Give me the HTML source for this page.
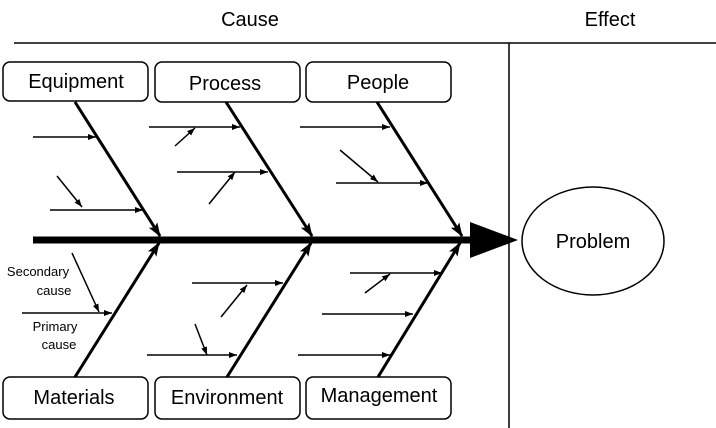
<!DOCTYPE html>
<html><head><style>
body{margin:0;background:#fff;}
svg{display:block;font-family:"Liberation Sans",sans-serif;}
</style></head><body>
<svg width="716" height="428" viewBox="0 0 716 428" xmlns="http://www.w3.org/2000/svg">
<defs>
<marker id="a" markerWidth="8" markerHeight="6" refX="8" refY="3" orient="auto" markerUnits="userSpaceOnUse"><path d="M0,0 L8,3 L0,6 z" fill="#000"/></marker>
<marker id="b" markerWidth="14" markerHeight="10" refX="13" refY="5" orient="auto" markerUnits="userSpaceOnUse"><path d="M0,0 L14,5 L0,10 L3,5 z" fill="#000"/></marker>
</defs>
<text x="250" y="26" font-size="20" text-anchor="middle">Cause</text>
<text x="610" y="26" font-size="20" text-anchor="middle">Effect</text>
<line x1="14" y1="43" x2="716" y2="43" stroke="#000" stroke-width="1.5"/>
<line x1="509" y1="43" x2="509" y2="428" stroke="#000" stroke-width="1.5"/>
<ellipse cx="593" cy="241" rx="71" ry="54" fill="#fff" stroke="#000" stroke-width="1.5"/>
<text x="593" y="248" font-size="20" text-anchor="middle">Problem</text>
<line x1="33" y1="240" x2="475" y2="240" stroke="#000" stroke-width="7"/>
<path d="M470,222 L518,240 L470,258 z" fill="#000"/>
<g fill="#fff" stroke="#000" stroke-width="1.5">
<rect x="3" y="62" width="145" height="39" rx="7"/>
<rect x="155" y="62" width="145" height="40" rx="7"/>
<rect x="306" y="62" width="145" height="40" rx="7"/>
<rect x="3" y="377" width="145" height="42" rx="7"/>
<rect x="155" y="377" width="145" height="42" rx="7"/>
<rect x="306" y="377" width="145" height="42" rx="7"/>
</g>
<g font-size="20" text-anchor="middle">
<text x="76" y="88">Equipment</text>
<text x="225" y="90">Process</text>
<text x="378" y="89">People</text>
<text x="74" y="404">Materials</text>
<text x="227" y="404">Environment</text>
<text x="379" y="402">Management</text>
</g>
<g stroke="#000" stroke-width="3">
<line x1="75" y1="102" x2="160" y2="236" marker-end="url(#b)"/>
<line x1="226" y1="102" x2="312" y2="236" marker-end="url(#b)"/>
<line x1="377" y1="102" x2="462" y2="236" marker-end="url(#b)"/>
<line x1="75" y1="377" x2="159" y2="243" marker-end="url(#b)"/>
<line x1="227" y1="377" x2="311" y2="243" marker-end="url(#b)"/>
<line x1="378" y1="377" x2="460" y2="243" marker-end="url(#b)"/>
</g>
<g stroke="#000" stroke-width="1.5" marker-end="url(#a)">
<line x1="33" y1="137" x2="96" y2="137"/>
<line x1="57" y1="176" x2="82" y2="207"/>
<line x1="50" y1="210" x2="143" y2="210"/>
<line x1="149" y1="127" x2="240" y2="127"/>
<line x1="175" y1="146" x2="195" y2="128"/>
<line x1="177" y1="172" x2="268" y2="172"/>
<line x1="209" y1="204" x2="235" y2="172"/>
<line x1="300" y1="127" x2="390" y2="127"/>
<line x1="340" y1="150" x2="378" y2="182"/>
<line x1="336" y1="183" x2="428" y2="183"/>
<line x1="22" y1="313" x2="112" y2="313"/>
<line x1="72" y1="253" x2="99" y2="312"/>
<line x1="192" y1="283" x2="283" y2="283"/>
<line x1="221" y1="317" x2="247" y2="285"/>
<line x1="147" y1="355" x2="237" y2="355"/>
<line x1="195" y1="324" x2="207" y2="355"/>
<line x1="350" y1="273" x2="442" y2="273"/>
<line x1="365" y1="293" x2="390" y2="274"/>
<line x1="322" y1="314" x2="413" y2="314"/>
<line x1="298" y1="355" x2="390" y2="355"/>
</g>
<g font-size="13" text-anchor="middle">
<text x="38" y="276">Secondary</text>
<text x="54" y="295">cause</text>
<text x="55" y="331">Primary</text>
<text x="59" y="349">cause</text>
</g>
</svg>
</body></html>
